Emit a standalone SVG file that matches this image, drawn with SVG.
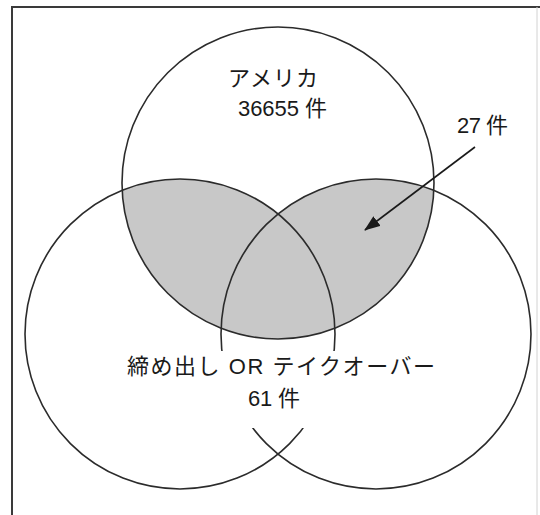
<svg xmlns="http://www.w3.org/2000/svg" width="540" height="515" viewBox="0 0 540 515">
  <style>
    .ring { fill: none; stroke: #2b2b2b; stroke-width: 1.6; }
    .lbl { font-family: "Liberation Sans", "Noto Sans CJK JP", sans-serif; font-size: 22px; fill: #1a1a1a; }
    .frame { stroke: #3a3a3a; stroke-width: 2; fill: none; }
    .shade { fill: #c8c8c8; }
  </style>
  <defs>
    <clipPath id="topClip">
      <circle cx="278" cy="183" r="156"/>
    </clipPath>
    <marker id="arrowHead" viewBox="0 0 16 12" refX="15" refY="6" markerWidth="16" markerHeight="12" markerUnits="userSpaceOnUse" orient="auto">
      <path d="M0,0 L16,6 L0,12 Z" fill="#1a1a1a"/>
    </marker>
  </defs>
  <rect width="540" height="515" fill="#ffffff"/>
  <g id="frame">
    <path class="frame" d="M12,515 L12,7 L540,7"/>
    <line x1="537" y1="7" x2="537" y2="515" stroke="#d2d2d2" stroke-width="1"/>
  </g>
  <g id="shading" clip-path="url(#topClip)">
    <circle class="shade" cx="180" cy="334" r="155"/>
    <circle class="shade" cx="376" cy="334" r="155"/>
  </g>
  <g id="node-america">
    <circle class="ring" cx="278" cy="183" r="156"/>
    <text class="lbl" x="228" y="86" textLength="90" lengthAdjust="spacing">アメリカ</text>
    <text class="lbl" x="238" y="116" textLength="89" lengthAdjust="spacing">36655 件</text>
  </g>
  <g id="node-shimedashi">
    <circle class="ring" cx="180" cy="334" r="155"/>
  </g>
  <g id="node-takeover">
    <circle class="ring" cx="376" cy="334" r="155"/>
  </g>
  <g id="node-union-label">
    <rect x="120" y="351" width="325" height="77" fill="#ffffff"/>
    <text class="lbl" x="127" y="374" textLength="308" lengthAdjust="spacing">締め出し OR テイクオーバー</text>
    <text class="lbl" x="248" y="406" textLength="52" lengthAdjust="spacing">61 件</text>
  </g>
  <g id="node-27">
    <text class="lbl" x="457" y="133" textLength="51" lengthAdjust="spacing">27 件</text>
  </g>
  <g id="connectors">
    <line x1="475" y1="147" x2="365" y2="230" stroke="#1a1a1a" stroke-width="1.6" marker-end="url(#arrowHead)"/>
  </g>
</svg>
